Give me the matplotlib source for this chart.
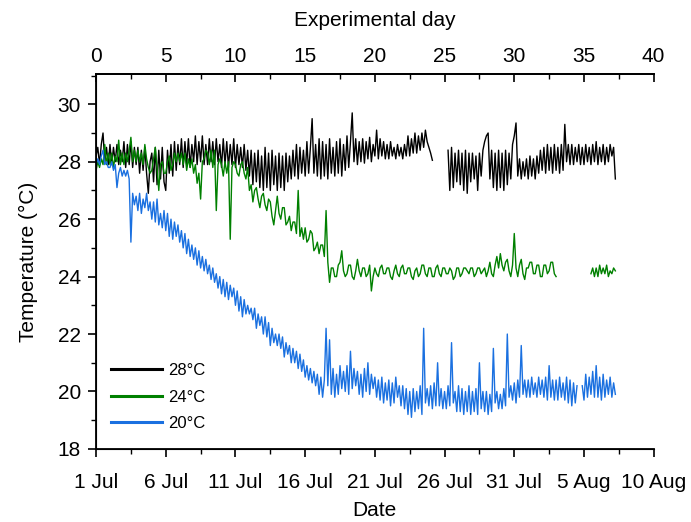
import numpy as np
import matplotlib
matplotlib.use('Agg')
from matplotlib import pyplot as plt
from matplotlib.ticker import MultipleLocator

plt.rcParams['font.family'] = ['Liberation Sans', 'DejaVu Sans']

nan = np.nan

# readings every 3 h (0.125 day), one row per experimental day

# 28 degC tank
temp_28 = [
    28.2, 28.5, 27.9, 28.6, 29.0, 28.0, 28.5, 27.9,
    28.6, 27.9, 28.5, 28.0, 28.6, 27.9, 28.4, 28.0,
    28.7, 27.8, 28.6, 27.9, 28.7, 27.8, 28.5, 27.9,
    28.5, 27.6, 28.4, 27.7, 28.5, 27.6, 26.9, 28.0,
    28.3, 27.3, 28.5, 27.2, 28.4, 27.4, 28.5, 27.3,
    27.0, 28.4, 27.6, 28.6, 27.5, 28.7, 27.7, 28.6,
    27.9, 28.8, 27.8, 28.7, 27.9, 28.8, 27.8, 28.6,
    28.0, 28.9, 27.9, 28.7, 28.0, 28.9, 27.9, 28.6,
    27.9, 28.8, 28.0, 28.7, 27.9, 28.8, 28.0, 28.6,
    27.8, 28.8, 27.9, 28.7, 27.8, 28.6, 27.9, 28.8,
    27.8, 28.6, 27.9, 28.5, 27.8, 28.6, 27.7, 28.4,
    27.5, 28.4, 27.2, 28.3, 27.3, 28.4, 27.1, 28.2,
    27.0, 28.5, 27.1, 28.3, 27.0, 28.4, 27.2, 28.2,
    27.0, 28.3, 27.1, 28.2, 27.0, 28.3, 27.3, 28.2,
    27.4, 28.4, 27.5, 28.6, 27.4, 28.5, 27.6, 28.4,
    27.5, 28.7, 27.6, 28.5, 29.5, 27.6, 28.6, 27.5,
    28.8, 27.4, 28.7, 27.5, 28.6, 27.4, 28.8, 27.6,
    28.5, 27.5, 28.7, 27.6, 28.8, 27.5, 28.6, 27.7,
    28.9, 27.8, 28.7, 29.7, 28.0, 28.8, 27.9, 28.7,
    28.0, 28.8, 27.95, 28.7, 28.1, 28.85, 28.0, 28.6,
    28.2, 29.1, 28.1, 28.8, 28.2, 28.7, 28.1, 28.6,
    28.1, 28.7, 28.2, 28.5, 28.1, 28.6, 28.2, 28.5,
    28.1, 28.6, 28.2, 28.9, 28.2, 28.8, 28.3, 29.0,
    28.3, 28.9, 28.4, 29.0, 28.5, 29.1, 28.7, 28.5,
    28.3, 28.05, nan, nan, nan, nan, nan, nan,
    nan, nan, 28.4, 27.0, 28.5, 27.1, 28.3, 27.3,
    28.4, 27.2, 28.3, 27.0, 28.4, 26.9, 28.3, 27.3,
    28.3, 27.4, 28.2, 27.0, 28.3, 27.5, 28.4, 28.7,
    28.9, 29.0, 27.4, 28.4, 27.1, 28.3, 27.0, 28.4,
    27.1, 28.3, 27.0, 28.4, 27.2, 28.3, 27.4, 28.6,
    28.9, 29.35, 27.5, 28.1, 27.4, 28.0, 27.5, 28.1,
    27.4, 28.2, 27.5, 28.1, 27.4, 28.2, 27.6, 28.4,
    27.7, 28.5, 27.6, 28.6, 27.7, 28.5, 27.6, 28.6,
    27.7, 28.5, 27.6, 28.6, 27.7, 29.3, 28.0, 28.6,
    27.9, 28.6, 27.9, 28.5, 28.0, 28.6, 27.9, 28.5,
    27.9, 28.6, 28.0, 28.5, 27.9, 28.6, 28.0, 28.7,
    27.9, 28.5, 28.0, 28.6, 27.9, 28.5, 28.0, 28.6,
    28.2, 28.5, 27.4,
]

# 24 degC tank
temp_24 = [
    27.7, 28.0, 27.8, 28.1, 27.9, 28.6, 27.9, 28.3,
    27.9, 28.3, 27.8, 28.2, 28.0, 28.75, 27.9, 28.3,
    27.9, 28.3, 28.0, 28.4, 28.85, 28.0, 28.4, 28.0,
    28.4, 28.0, 28.3, 27.9, 28.6, 28.1, 27.8, 27.6,
    27.7, 28.1, 28.5, 27.8, 27.0, 27.9, 28.0, 27.6,
    27.6, 28.0, 28.2, 27.7, 27.9, 28.3, 28.0, 28.3,
    28.0, 28.3, 27.9, 28.3, 27.7, 28.1, 27.8, 28.1,
    27.6, 27.9, 27.25, 27.6, 26.7, 28.0, 28.1, 28.4,
    28.3, 27.9, 28.4, 27.8, 28.4, 26.3, 27.9, 28.1,
    27.9, 27.5, 28.0, 27.6, 28.0, 25.3, 27.8, 28.0,
    27.9, 27.6, 27.5, 27.9, 28.0, 27.6, 27.4, 27.8,
    27.0, 27.2, 26.6, 27.0, 27.1, 26.7, 26.4, 26.8,
    26.9, 26.5, 26.3, 26.7, 26.6, 26.1, 25.8, 26.3,
    26.8, 26.2, 26.0, 26.4, 26.4, 25.8, 25.9, 26.1,
    25.6, 25.9, 25.9, 25.5, 27.0, 25.4, 25.7, 25.3,
    25.7, 25.2, 25.3, 25.6, 25.5, 24.9, 25.0, 25.2,
    24.8, 25.1, 25.1, 24.7, 26.3, 24.5, 23.8, 24.3,
    24.3, 24.0, 24.0, 24.4, 24.5, 24.9, 24.2, 24.0,
    24.1, 24.4, 24.4, 24.0, 23.9, 24.2, 24.6, 24.2,
    24.0, 24.3, 24.3, 24.0, 24.1, 24.4, 23.5, 24.0,
    24.3, 24.1, 24.0, 24.3, 24.4, 24.1, 24.1, 24.3,
    24.3, 24.0, 23.9, 24.2, 24.4, 24.1, 24.0, 24.3,
    24.4, 24.1, 24.1, 24.3, 24.3, 24.0, 23.9, 24.2,
    24.3, 24.0, 24.1, 24.4, 24.4, 24.1, 24.0, 24.3,
    24.3, 24.0, 24.0, 24.3, 24.4, 24.1, 24.0, 24.3,
    24.3, 24.1, 24.1, 24.3, 24.2, 23.9, 24.0, 24.3,
    24.3, 24.0, 24.1, 24.3, 24.3, 24.2, 24.1, 24.3,
    24.3, 24.0, 24.1, 24.3, 24.3, 24.1, 24.2, 24.3,
    24.0, 24.2, 24.5, 24.1, 24.0, 24.4, 24.7, 24.3,
    24.8, 24.4, 24.2, 24.5, 24.6, 24.2, 24.0, 24.4,
    25.5, 24.3, 24.0, 24.4, 24.6, 24.1, 23.9, 24.3,
    24.3, 24.5, 24.5, 24.1, 24.1, 24.4, 24.4, 24.0,
    24.0, 24.4, 24.4, 24.1, 24.2, 24.5, 24.5, 24.1,
    24.0, nan, nan, nan, nan, nan, nan, nan,
    nan, nan, nan, nan, nan, nan, nan, nan,
    nan, nan, nan, nan, 24.1, 24.3, 24.0, 24.3,
    24.0, 24.4, 24.1, 24.3, 24.1, 24.4, 24.0, 24.2,
    24.1, 24.3, 24.2,
]

# 20 degC tank
temp_20 = [
    27.9, 28.1, 27.9, 28.2, 28.4, 27.9, 28.0, 27.8,
    27.8, 28.0, 27.7, 27.9, 27.1, 27.6, 27.8, 27.5,
    27.7, 27.5, 27.7, 27.4, 25.2, 26.9, 26.5, 26.8,
    26.3, 26.9, 26.2, 26.7, 26.4, 26.9, 26.3, 26.6,
    26.0, 26.6, 25.9, 26.7, 25.8, 26.2, 25.7, 26.3,
    25.6, 26.2, 25.4, 26.0, 25.3, 25.9, 25.4, 25.8,
    25.2, 25.6, 25.0, 25.5, 24.8, 25.3, 24.7, 25.1,
    24.6, 25.0, 24.4, 24.9, 24.3, 24.7, 24.2, 24.6,
    24.1, 24.4, 23.9, 24.3, 23.8, 24.1, 23.6, 24.0,
    23.4, 23.9, 23.3, 23.8, 23.2, 23.7, 23.3, 23.6,
    23.0, 23.5, 22.8, 23.3, 22.6, 23.2, 22.7, 23.0,
    22.7, 22.9, 22.5, 22.9, 22.2, 22.7, 22.3, 22.6,
    22.0, 22.6, 21.9, 22.4, 21.6, 22.2, 21.7, 22.0,
    21.6, 22.0, 21.5, 21.9, 21.2, 21.7, 21.3, 21.6,
    21.0, 21.5, 21.0, 21.4, 20.8, 21.3, 20.7, 21.1,
    20.5, 20.9, 20.4, 20.8, 20.3, 20.7, 20.2, 20.6,
    19.9, 20.5, 19.8, 20.4, 22.2, 20.2, 21.8, 19.9,
    20.8, 19.8, 20.6, 19.9, 20.9, 20.1, 20.7, 20.0,
    20.9, 19.9, 21.4, 20.1, 20.8, 20.2, 20.7, 19.9,
    20.6, 19.8, 20.8, 20.0, 21.0, 19.9, 20.6, 20.1,
    20.5, 19.8, 20.4, 19.7, 20.5, 19.6, 20.3, 19.7,
    20.4, 19.5, 20.3, 19.6, 20.5, 19.8, 20.2, 19.5,
    20.2, 19.4, 20.1, 19.2, 20.0, 19.1, 20.1, 19.3,
    20.0, 19.4, 20.2, 19.2, 22.2, 19.6, 20.1, 19.5,
    20.2, 19.4, 20.3, 19.5, 21.0, 19.5, 20.1, 19.4,
    20.0, 19.4, 20.2, 19.5, 21.7, 19.6, 20.0, 19.3,
    20.2, 19.3, 20.1, 19.2, 20.0, 19.3, 20.2, 19.2,
    20.0, 19.3, 20.1, 19.2, 21.0, 19.4, 20.0, 19.3,
    20.0, 19.2, 19.9, 19.3, 21.5, 19.6, 20.0, 19.4,
    19.9, 19.4, 20.1, 19.5, 22.0, 19.8, 20.2, 19.7,
    20.3, 19.6, 20.4, 19.8, 21.6, 19.9, 20.4, 19.8,
    20.4, 19.8, 20.5, 19.9, 20.3, 19.8, 20.5, 19.9,
    20.4, 19.8, 20.5, 19.7, 20.9, 19.8, 20.4, 19.7,
    20.4, 19.7, 20.5, 19.8, 20.3, 19.7, 20.5, 19.6,
    20.4, 19.5, 20.3, 19.6, 20.2, nan, nan, 20.2,
    19.7, 20.6, 19.8, 20.5, 19.9, 20.7, 19.8, 20.9,
    19.8, 20.5, 19.7, 20.6, 19.8, 20.4, 19.9, 20.5,
    19.8, 20.3, 19.9,
]

date_ticks = [0, 5, 10, 15, 20, 25, 30, 35, 40]
date_labels = ['1 Jul', '6 Jul', '11 Jul', '16 Jul', '21 Jul',
               '26 Jul', '31 Jul', '5 Aug', '10 Aug']

series = [('28°C', temp_28, 'black'),
          ('24°C', temp_24, '#008000'),
          ('20°C', temp_20, '#1a70e0')]

fig = plt.figure(figsize=(6.91, 5.22), dpi=100)
ax = fig.add_axes([0.139, 0.140, 0.807, 0.718])

for name, vals, col in series:
    days = np.arange(len(vals)) * 0.125
    ax.plot(days, vals, color=col, lw=1.0, label=name)

ax.set_xlim(0, 40)
ax.set_ylim(18, 31.05)
ax.set_xticks(date_ticks)
ax.set_xticklabels(date_labels)
ax.xaxis.set_minor_locator(MultipleLocator(2.5))
ax.yaxis.set_major_locator(MultipleLocator(2))
ax.yaxis.set_minor_locator(MultipleLocator(1))
ax.spines['right'].set_visible(False)
for s in ['left', 'bottom', 'top']:
    ax.spines[s].set_linewidth(1.3)
ax.tick_params(which='major', direction='out', length=6, width=1.2,
               labelsize=15, pad=5)
ax.tick_params(axis='x', which='major', pad=11)
ax.tick_params(which='minor', direction='out', length=3.5, width=1.0)
ax.set_xlabel('Date', fontsize=15, labelpad=7)
ax.set_ylabel('Temperature (°C)', fontsize=15, labelpad=14)

# experimental day on top
top = ax.twiny()
top.set_xlim(0, 40)
top.xaxis.set_major_locator(MultipleLocator(5))
top.xaxis.set_minor_locator(MultipleLocator(2.5))
top.spines['right'].set_visible(False)
top.spines['top'].set_linewidth(1.3)
top.tick_params(which='major', direction='in', length=6, width=1.2,
                labelsize=15, pad=6)
top.tick_params(which='minor', direction='in', length=3.5, width=1.0)
top.set_xlabel('Experimental day', fontsize=15, labelpad=15)

leg = ax.legend(loc='lower left', frameon=False, fontsize=12,
                handlelength=3.05, handletextpad=0.4, labelspacing=0.68,
                bbox_to_anchor=(0.0, 0.008))
for h in leg.get_lines():
    h.set_linewidth(2.2)

fig.savefig('out.png', dpi=100)
